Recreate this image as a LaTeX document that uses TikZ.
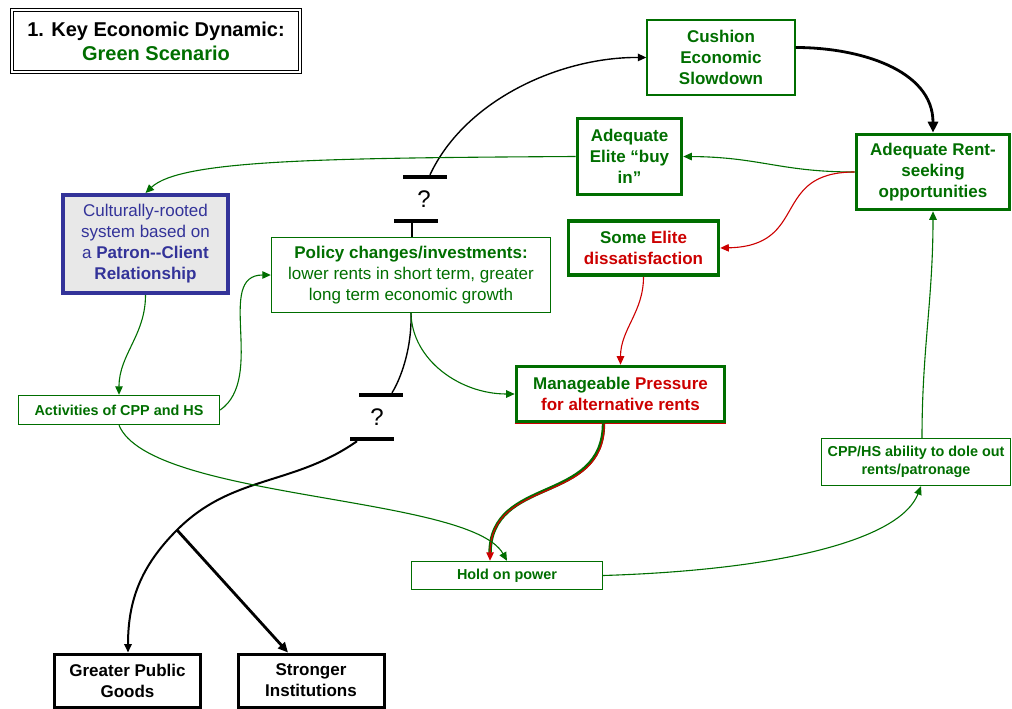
\documentclass[tikz,border=0pt]{standalone}
\usepackage{fontspec}
\setmainfont{Liberation Sans}
\usetikzlibrary{arrows.meta}
\definecolor{grn}{RGB}{0,110,0}
\definecolor{rd}{RGB}{204,0,0}
\definecolor{blu}{RGB}{51,51,153}
\definecolor{paleg}{RGB}{232,232,232}

\begin{document}
\begin{tikzpicture}[x=1pt,y=1pt,
  box/.style={draw=grn, text=grn, align=center, inner sep=0pt, line width=1.4pt},
  heavy/.style={box, line width=3.6pt},
  blackbox/.style={draw=black, text=black, align=center, inner sep=0pt, line width=3pt},
  bigtxt/.style={font=\fontsize{17}{21}\selectfont\bfseries},
  smalltxt/.style={font=\fontsize{14.4}{18}\selectfont\bfseries},
  bar/.style={fill=black, inner sep=0pt, minimum width=44pt, minimum height=4pt},
  qmark/.style={font=\fontsize{24}{24}\selectfont, inner sep=0pt},
  tip/.style={-{Triangle[length=8.5pt,width=7.5pt]}},
  bigtip/.style={-{Triangle[length=11pt,width=10pt]}},
  gline/.style={draw=grn, line width=1.1pt, tip},
  rline/.style={draw=rd, line width=1.1pt, tip},
  kline/.style={draw=black, line width=1.4pt}
]
\useasboundingbox (0,0) rectangle (1012,-709);

% title
\node[draw=black, double, double distance=2pt, line width=1pt, minimum width=288pt,
      minimum height=62pt, inner sep=0pt, align=center,
      font=\fontsize{20}{24}\selectfont\bfseries] (title) at (156,-41)
      {1. Key Economic Dynamic:\\\textcolor{grn}{Green Scenario}};

% boxes
\node[box,bigtxt,minimum width=148pt,minimum height=75pt] (cush) at (721,-57.5) {Cushion\\Economic\\Slowdown};
\node[heavy,bigtxt,minimum width=104pt,minimum height=76pt] (buyin) at (629.5,-156.5) {Adequate\\Elite “buy\\in”};
\node[heavy,bigtxt,minimum width=153pt,minimum height=75pt] (rent) at (933,-172) {Adequate Rent-\\seeking\\opportunities};
\node[heavy,bigtxt,minimum width=150pt,minimum height=54pt] (dissat) at (643.5,-248) {Some \textcolor{rd}{Elite}\\\textcolor{rd}{dissatisfaction}};
\node[draw=blu, line width=4pt, fill=paleg, text=blu, align=center, inner sep=0pt,
      minimum width=165pt, minimum height=98pt, font=\fontsize{17}{21}\selectfont] (patron) at (145.5,-244)
      {Culturally-rooted\\system based on\\a \textbf{Patron-{}-Client}\\\textbf{Relationship}};
\node[box, font=\fontsize{17}{21}\selectfont, minimum width=279pt, minimum height=75pt] (policy) at (411,-275)
      {\textbf{Policy changes/investments:}\\lower rents in short term, greater\\long term economic growth};
\node[box,smalltxt,minimum width=201pt,minimum height=29pt] (acts) at (119,-410) {Activities of CPP and HS};
\node[heavy,bigtxt,minimum width=208pt,minimum height=55pt] (press) at (620.5,-394)
      {Manageable \textcolor{rd}{Pressure}\\\textcolor{rd}{for alternative rents}};
\draw[rd, line width=1pt] ([yshift=-0.4pt]press.south west) -- ([yshift=-0.4pt]press.south east);
\node[box,smalltxt,minimum width=189pt,minimum height=47pt] (dole) at (916,-462) {CPP/HS ability to dole out\\rents/patronage};
\node[box,smalltxt,minimum width=191pt,minimum height=28pt] (hold) at (507,-575.5) {Hold on power};
\node[blackbox,bigtxt,minimum width=146pt,minimum height=53pt] (goods) at (127.5,-680.5) {Greater Public\\Goods};
\node[blackbox,bigtxt,minimum width=146pt,minimum height=53pt] (inst) at (311,-680.5) {Stronger\\Institutions};

% uncertainty bars
\node[bar] (barA) at (425,-177) {};
\node[qmark] (qA) at (424,-199) {?};
\node[bar] (barB) at (416,-221) {};
\node[bar] (barC) at (381,-395) {};
\node[qmark] (qB) at (377,-417) {?};
\node[bar] (barD) at (372,-439) {};
\coordinate (fork) at (177,-530);

% black links
\draw[kline, tip] ([xshift=5pt]barA.north) .. controls (465,-100) and (560,-57) .. (cush.west);
\draw[black, line width=2.8pt, bigtip] ([yshift=10pt]cush.east) to[out=0,in=90] (rent.north);
\draw[kline] ([xshift=-4pt]barB.south) -- ([xshift=1pt]policy.north);
\draw[kline] (policy.south) .. controls (412,-350) and (400,-380) .. ([xshift=11pt]barC.north);
\draw[black, line width=2pt, tip] ([xshift=-15pt]barD.south) to[out=215,in=45] (fork)
      to[out=225,in=90] ([xshift=0.5pt]goods.north);
\draw[black, line width=2.8pt, -{Triangle[length=10pt,width=9pt]}] (fork) -- ([xshift=-23pt]inst.north);

% green and red links
\draw[gline] (rent.west) .. controls (780,-172) and (760,-157) .. (buyin.east);
\draw[rline] (rent.west) .. controls (770,-172) and (810,-246) .. (dissat.east);
\draw[gline] (buyin.west) .. controls (320,-158) and (180,-160) .. (patron.north);
\draw[gline] (patron.south) to[out=-90,in=90] (acts.north);
\draw[gline] (acts.east) to[out=35,in=180] (policy.west);
\draw[gline] (policy.south) .. controls (412,-360) and (460,-394) .. (press.west);
\draw[rline] (dissat.south) to[out=-90,in=90] (press.north);
\draw[grn, line width=3.4pt, shorten >=7pt] ([xshift=-17pt]press.south)
      .. controls (603.5,-505) and (490,-475) .. ([xshift=-17pt]hold.north);
\draw[rd, line width=1.3pt, tip] ([xshift=-16.2pt,yshift=-0.8pt]press.south)
      .. controls (604.3,-505.8) and (490.8,-475.8) .. ([xshift=-17pt]hold.north);
\draw[gline] (acts.south) .. controls (150,-500) and (470,-495) .. (hold.north);
\draw[gline] (hold.east) .. controls (780,-570) and (900,-540) .. ([xshift=5pt]dole.south);
\draw[gline] ([xshift=6pt]dole.north) to[out=90,in=-90] (rent.south);
\end{tikzpicture}
\end{document}
